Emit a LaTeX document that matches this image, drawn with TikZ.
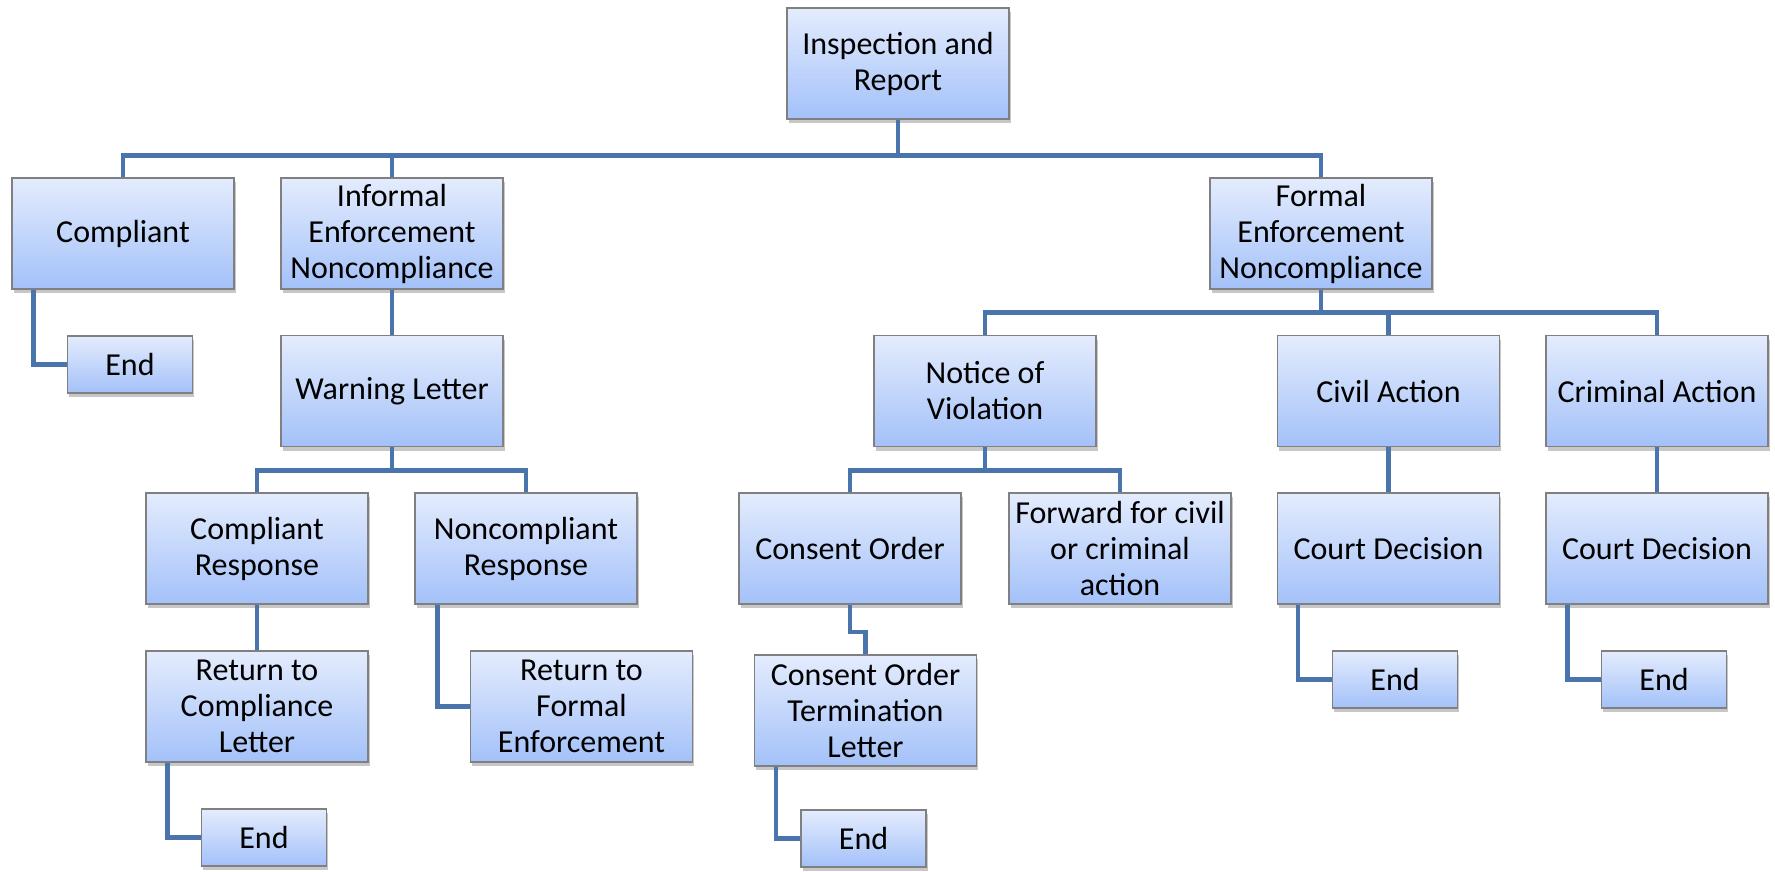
\documentclass[tikz,border=0pt]{standalone}
\usepackage{fontspec}
\setmainfont{Carlito}
\usetikzlibrary{shadows}
\definecolor{boxtop}{RGB}{228,236,253}
\definecolor{boxbot}{RGB}{163,193,249}
\definecolor{boxline}{RGB}{128,128,128}
\definecolor{conn}{RGB}{74,116,172}
\tikzset{
  box/.style={draw=boxline, line width=1.2pt, top color=boxtop, bottom color=boxbot,
    minimum width=222pt, minimum height=111pt, inner sep=2pt, align=center,
    font=\fontsize{32}{36}\selectfont,
    drop shadow={shadow xshift=1.5pt, shadow yshift=-4pt, fill=black, opacity=0.22}},
  endbox/.style={box, minimum width=125pt, minimum height=57pt},
  link/.style={draw=conn, line width=4.5pt, line join=miter}
}
\begin{document}
\begin{tikzpicture}[x=1pt,y=-1pt]
\useasboundingbox (0,0) rectangle (1775,871);
% level 0
\node[box] (insp) at (898,63.5) {Inspection and\\Report};
% level 1
\node[box] (compl) at (123,233.5) {Compliant};
\node[box] (inf) at (392,233.5) {Informal\\Enforcement\\Noncompliance};
\node[box] (form) at (1321,233.5) {Formal\\Enforcement\\Noncompliance};
% level 2
\node[endbox] (end1) at (130,364.5) {End};
\node[box] (warn) at (392,391) {Warning Letter};
\node[box] (notice) at (985,391) {Notice of\\Violation};
\node[box] (civil) at (1388.5,391) {Civil Action};
\node[box] (crim) at (1657,391) {Criminal Action};
% level 3
\node[box] (cresp) at (257,548.5) {Compliant\\Response};
\node[box] (nresp) at (526,548.5) {Noncompliant\\Response};
\node[box] (consent) at (850,548.5) {Consent Order};
\node[box] (fwd) at (1120,548.5) {Forward for civil\\or criminal\\action};
\node[box] (court1) at (1388.5,548.5) {Court Decision};
\node[box] (court2) at (1657,548.5) {Court Decision};
% level 4
\node[box] (rcl) at (257,706.5) {Return to\\Compliance\\Letter};
\node[box] (rfe) at (581.5,706.5) {Return to\\Formal\\Enforcement};
\node[box] (cotl) at (865.5,710.5) {Consent Order\\Termination\\Letter};
\node[endbox] (end4) at (1395,679.5) {End};
\node[endbox] (end5) at (1664,679.5) {End};
% level 5
\node[endbox] (end2) at (264,837.5) {End};
\node[endbox] (end3) at (863.5,838.5) {End};
% connectors
\draw[link] (insp.south) -- ++(0,36) -| (compl.north);
\draw[link] (insp.south) -- ++(0,36) -| (inf.north);
\draw[link] (insp.south) -- ++(0,36) -| (form.north);
\draw[link] ([xshift=22pt]compl.south west) |- (end1.west);
\draw[link] (inf.south) -- (warn.north);
\draw[link] (warn.south) -- ++(0,23.3) -| (cresp.north);
\draw[link] (warn.south) -- ++(0,23.3) -| (nresp.north);
\draw[link] (cresp.south) -- (rcl.north);
\draw[link] ([xshift=23pt]nresp.south west) |- (rfe.west);
\draw[link] ([xshift=22pt]rcl.south west) |- (end2.west);
\draw[link] (form.south) -- ++(0,23) -| (notice.north);
\draw[link] (form.south) -- ++(0,23) -| (civil.north);
\draw[link] (form.south) -- ++(0,23) -| (crim.north);
\draw[link] (notice.south) -- ++(0,23.3) -| (consent.north);
\draw[link] (notice.south) -- ++(0,23.3) -| (fwd.north);
\draw[link] (consent.south) -- ++(0,27.5) -| (cotl.north);
\draw[link] ([xshift=22pt]cotl.south west) |- (end3.west);
\draw[link] (civil.south) -- (court1.north);
\draw[link] (crim.south) -- (court2.north);
\draw[link] ([xshift=21pt]court1.south west) |- (end4.west);
\draw[link] ([xshift=22pt]court2.south west) |- (end5.west);
\end{tikzpicture}
\end{document}
